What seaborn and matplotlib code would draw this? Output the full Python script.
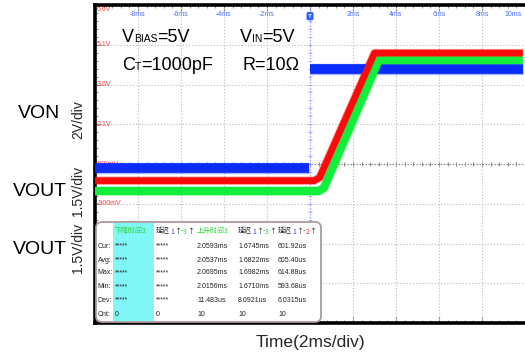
import numpy as np
import pandas as pd
import seaborn as sns
import matplotlib
matplotlib.use("Agg")
import matplotlib.pyplot as plt
from matplotlib.patches import FancyBboxPatch, Rectangle
from matplotlib import font_manager as fm

# ---------------- data ----------------
# time in ms, levels in screen divisions (0 = centre line)
von_t_before = [-10.0, -0.05]
von_v_before = [-0.09, -0.09]
von_t_after = [0.02, 9.9]
von_v_after = [2.39, 2.39]
vout_red_t = [-10.0, 0.2, 0.45, 3.0, 9.9]
vout_red_v = [-0.42, -0.42, -0.34, 2.79, 2.79]
vout_green_t = [-10.0, 0.4, 0.65, 3.2, 9.9]
vout_green_v = [-0.68, -0.68, -0.60, 2.61, 2.61]

time_ticks = [-8, -6, -4, -2, 2, 4, 6, 8, 10]
time_labels = ["-8ms", "-6ms", "-4ms", "-2ms", "2ms", "4ms", "6ms", "8ms", "10ms"]
ch_levels = [4, 3, 2, 1, 0, -1]
ch_labels = ["6.6V", "5.1V", "3.6V", "2.1V", "600mV", "-900mV"]

row_names = ["Cur:", "Avg:", "Max:", "Min:", "Dev:", "Cnt:"]
col_fall3 = ["*****", "*****", "*****", "*****", "*****", "0"]
col_delay13a = ["*****", "*****", "*****", "*****", "*****", "0"]
col_rise3 = ["2.0593ms", "2.0537ms", "2.0695ms", "2.0156ms", "11.483us", "10"]
col_delay13b = ["1.6745ms", "1.6822ms", "1.6982ms", "1.6710ms", "8.0921us", "10"]
col_delay12 = ["601.92us", "605.40us", "614.88us", "593.68us", "6.0315us", "10"]

# ---------------- style ----------------
sns.set_theme(style="white")
avail = {f.name for f in fm.fontManager.ttflist}
NARROW = "Liberation Sans Narrow" if "Liberation Sans Narrow" in avail else "Liberation Sans"
plt.rcParams["font.family"] = [NARROW, "DejaVu Sans"]
CJK = ["Noto Sans CJK SC", "DejaVu Sans"]

W, H = 525, 358
fig = plt.figure(figsize=(W / 100, H / 100), dpi=100, facecolor="white")

def fx(px):
    return px / W

def fy(py):
    return 1 - py / H

ax = fig.add_axes([fx(95), fy(323), fx(525) - fx(95), fy(5) - fy(323)])
ax.set_xlim(-10, 9.86)
ax.set_ylim(-4, 4)
ax.set_facecolor("white")

# grid
for gx in range(-8, 10, 2):
    if gx == 0:
        continue
    ax.axvline(gx, color="#c4c4c4", lw=0.8, ls=(0, (1.2, 1.6)), zorder=1)
for gy in range(-3, 4):
    if gy == 0:
        continue
    ax.axhline(gy, color="#c4c4c4", lw=0.8, ls=(0, (1.2, 1.6)), zorder=1)
# centre line with ticks
ax.axhline(0, color="#8a8a8a", lw=0.9, ls=(0, (1.2, 1.2)), zorder=1)
tks = np.arange(-10, 10, 0.4)
ax.vlines(tks, -0.05, 0.05, color="#8a8a8a", lw=0.7, zorder=1)
# trigger line
ax.axvline(0, color="#9aa0ff", lw=0.9, ls=(0, (1.2, 1.2)), zorder=1)
ax.hlines(np.arange(-4, 4, 0.2), -0.1, 0.1, color="#9aa0ff", lw=0.6, zorder=1)

# channel labels
for lv, lb in zip(ch_levels, ch_labels):
    ax.text(-9.93, lv - (0.12 if lv == 4 else 0), lb, color="#ff3a3a", fontsize=5,
            ha="left", va="center", zorder=2)
for tv, tl in zip(time_ticks, time_labels):
    if tv == 10:
        ax.text(9.84, 3.77, tl, color="#4a6cff", fontsize=5, ha="right", va="center",
                zorder=2)
    else:
        ax.text(tv, 3.77, tl, color="#4a6cff", fontsize=5, ha="center", va="center",
                zorder=2)
ax.text(0, 3.72, "T", color="white", fontsize=4.5, ha="center", va="center",
        fontweight="bold", zorder=6,
        bbox=dict(boxstyle="round,pad=0.25", fc="#2a5cff", ec="none"))

# traces
traces = [
    (von_t_before, von_v_before, "#0a2cff", 7.0),
    (von_t_after, von_v_after, "#0a2cff", 7.0),
    (vout_green_t, vout_green_v, "#12ee3c", 5.8),
    (vout_red_t, vout_red_v, "#ff0a0a", 4.9),
]
for t, v, c, lw in traces:
    df = pd.DataFrame({"t": t, "v": v})
    sns.lineplot(data=df, x="t", y="v", ax=ax, color=c, lw=lw + 1.2, alpha=0.35,
                 sort=False, estimator=None, solid_capstyle="butt", zorder=3)
    sns.lineplot(data=df, x="t", y="v", ax=ax, color=c, lw=lw, sort=False,
                 estimator=None, solid_capstyle="butt", zorder=4)

ax.set_xlabel("")
ax.set_ylabel("")
ax.set_xticks(np.arange(-10, 10.01, 2))
ax.set_yticks(np.arange(-4, 4.01, 1))
ax.set_xticks(np.arange(-10, 10.01, 0.4), minor=True)
ax.set_yticks(np.arange(-4, 4.01, 0.2), minor=True)
ax.tick_params(which="both", direction="in", labelbottom=False, labelleft=False,
               top=True, bottom=True, left=True, right=False, color="#808080")
ax.tick_params(which="major", length=4, width=0.8)
ax.tick_params(which="minor", length=2.5, width=0.6)
for s in ["left", "top", "bottom"]:
    ax.spines[s].set_color("black")
    ax.spines[s].set_linewidth(2.6)
ax.spines["right"].set_visible(False)

# ---------------- table ----------------
box = FancyBboxPatch((96 / 100, (H - 322) / 100), (321 - 96) / 100, (322 - 222) / 100,
                     boxstyle="round,pad=0,rounding_size=0.06",
                     transform=fig.dpi_scale_trans, fc="white", ec="#a89c9c", lw=1.3,
                     zorder=1)
fig.add_artist(box)
cyan = Rectangle((113 / 100, (H - 321) / 100), (154 - 113) / 100, (321 - 223) / 100,
                 transform=fig.dpi_scale_trans, fc="#80f6f6", ec="none", zorder=1.5)
fig.add_artist(cyan)

fig.canvas.draw()
renderer = fig.canvas.get_renderer()

def chain(pieces, x_px, y_px):
    x = x_px
    for s, size, color, dy, fam in pieces:
        t = fig.text(fx(x), fy(y_px + dy), s, fontsize=size, color=color,
                     ha="left", va="baseline", family=fam, zorder=5)
        bb = t.get_window_extent(renderer=renderer)
        x += bb.width

row_y = [246, 260, 273, 287, 300, 314]
col_x = [115, 156, 197, 238, 278]
cols = [col_fall3, col_delay13a, col_rise3, col_delay13b, col_delay12]
for name, yy in zip(row_names, row_y):
    fig.text(fx(97.5), fy(yy), name, fontsize=5, color="#222222", ha="left",
             va="center", zorder=5)
for cx, col in zip(col_x, cols):
    for val, yy in zip(col, row_y):
        fig.text(fx(cx), fy(yy), val, fontsize=5, color="#222222", ha="left",
                 va="center", zorder=5)

hb = 233.5
GRN = "#2ad52a"
chain([("下降时间3", 5, GRN, 0, CJK)], 115, hb)
chain([("延迟", 5, "#222222", 0, CJK), ("1", 5, "#2040ff", 0, CJK),
       ("↑-", 5, "#222222", 0, CJK), ("3", 5, GRN, 0, CJK), ("↑", 5, "#222222", 0, CJK)], 156, hb)
chain([("上升时间3", 5, GRN, 0, CJK)], 197, hb)
chain([("延迟", 5, "#222222", 0, CJK), ("1", 5, "#2040ff", 0, CJK),
       ("↑-", 5, "#222222", 0, CJK), ("3", 5, GRN, 0, CJK), ("↑", 5, "#222222", 0, CJK)], 238, hb)
chain([("延迟", 5, "#222222", 0, CJK), ("1", 5, "#2040ff", 0, CJK),
       ("↑-", 5, "#222222", 0, CJK), ("2", 5, "#ff2020", 0, CJK), ("↑", 5, "#222222", 0, CJK)], 278, hb)

# ---------------- annotations ----------------
BIG = 13
SUB = 7.5
chain([("V", BIG, "black", 0, NARROW), ("BIAS", SUB, "black", 0, NARROW),
       ("=5V", BIG, "black", 0, NARROW)], 122, 42)
chain([("V", BIG, "black", 0, NARROW), ("IN", SUB, "black", 0, NARROW),
       ("=5V", BIG, "black", 0, NARROW)], 240, 42)
chain([("C", BIG, "black", 0, NARROW), ("T", SUB, "black", 0, NARROW),
       ("=1000pF", BIG, "black", 0, NARROW)], 122, 70)
chain([("R=10Ω", BIG, "black", 0, [NARROW, "DejaVu Sans"])], 242, 70)

fig.text(fx(39), fy(114), "VON", fontsize=14, ha="center", va="center", color="black")
fig.text(fx(40), fy(191), "VOUT", fontsize=14, ha="center", va="center", color="black")
fig.text(fx(40), fy(250), "VOUT", fontsize=14, ha="center", va="center", color="black")
fig.text(fx(78), fy(120), "2V/div", fontsize=10, rotation=90, ha="center", va="center",
         family="Liberation Sans")
fig.text(fx(78), fy(191), "1.5V/div", fontsize=10, rotation=90, ha="center", va="center",
         family="Liberation Sans")
fig.text(fx(78), fy(248), "1.5V/div", fontsize=10, rotation=90, ha="center", va="center",
         family="Liberation Sans")
fig.text(fx(310), fy(343), "Time(2ms/div)", fontsize=12.5, ha="center", va="center",
         family="Liberation Sans")

fig.savefig("out.png", dpi=100, facecolor="white")
